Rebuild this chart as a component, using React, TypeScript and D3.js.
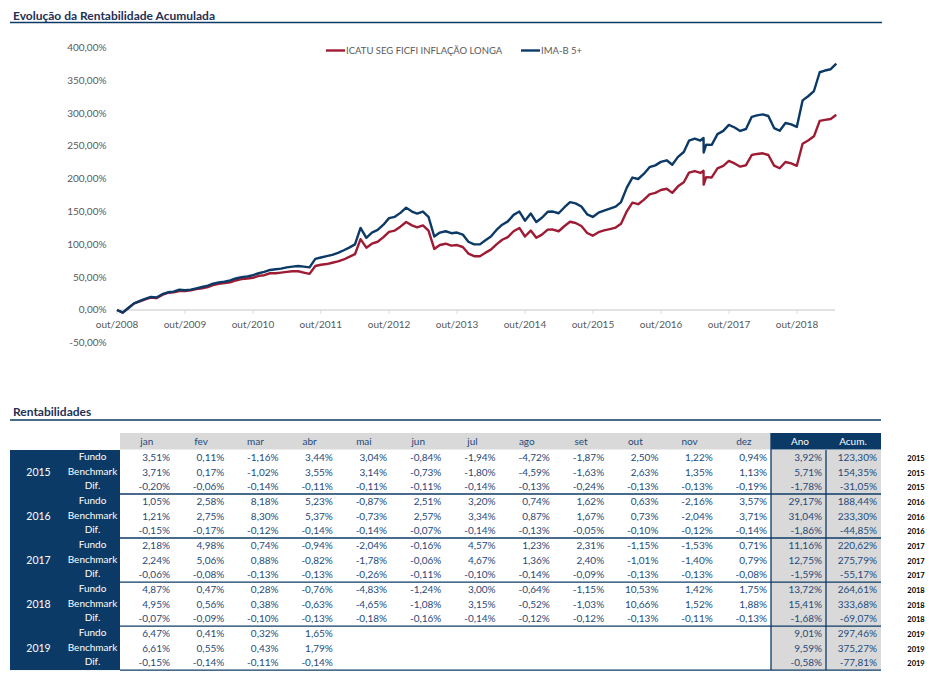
import React from 'react';
import * as d3 from 'd3';

// ---------- Chart data (cumulative return, %) ----------
const dates: string[] = [
  '2008-10-01','2008-11-01','2008-12-01','2009-01-01','2009-02-01','2009-03-01','2009-04-01','2009-05-01','2009-06-01','2009-07-01','2009-08-01','2009-09-01',
  '2009-10-01','2009-11-01','2009-12-01','2010-01-01','2010-02-01','2010-03-01','2010-04-01','2010-05-01','2010-06-01','2010-07-01','2010-08-01','2010-09-01',
  '2010-10-01','2010-11-01','2010-12-01','2011-01-01','2011-02-01','2011-03-01','2011-04-01','2011-05-01','2011-06-01','2011-07-01','2011-08-01','2011-09-01',
  '2011-10-01','2011-11-01','2011-12-01','2012-01-01','2012-02-01','2012-03-01','2012-04-01','2012-05-01','2012-06-01','2012-07-01','2012-08-01','2012-09-01',
  '2012-10-01','2012-11-01','2012-12-01','2013-01-01','2013-02-01','2013-03-01','2013-04-01','2013-05-01','2013-06-01','2013-07-01','2013-08-01','2013-09-01',
  '2013-10-01','2013-11-01','2013-12-01','2014-01-01','2014-02-01','2014-03-01','2014-04-01','2014-05-01','2014-06-01','2014-07-01','2014-08-01','2014-09-01',
  '2014-10-01','2014-11-01','2014-12-01','2014-12-31',
  '2015-01-31','2015-02-28','2015-03-31','2015-04-30','2015-05-31','2015-06-30','2015-07-31','2015-08-31','2015-09-30','2015-10-31','2015-11-30','2015-12-31',
  '2016-01-31','2016-02-29','2016-03-31','2016-04-30','2016-05-31','2016-06-30','2016-07-31','2016-08-31','2016-09-30','2016-10-31','2016-11-30','2016-12-31',
  '2017-01-31','2017-02-28','2017-03-31','2017-04-30','2017-05-17','2017-05-18','2017-05-31','2017-06-30','2017-07-31','2017-08-31','2017-09-30','2017-10-31','2017-11-30','2017-12-31',
  '2018-01-31','2018-02-28','2018-03-31','2018-04-30','2018-05-31','2018-06-30','2018-07-31','2018-08-31','2018-09-30','2018-10-31','2018-11-30','2018-12-31',
  '2019-01-31','2019-02-28','2019-03-31','2019-04-30',
];

const imaB: number[] = [
  0, -4, 3, 10, 14, 17, 20, 19, 24, 27, 28, 31,
  30, 31, 33, 35, 37, 40, 42, 43, 45, 48, 50, 51,
  53, 56, 58, 61, 62, 63, 65, 66, 67, 66, 65, 78,
  80, 82, 84, 87, 91, 95, 100, 125, 110, 118, 122, 130,
  140, 142, 148, 156, 150, 147, 150, 142, 112, 118, 120, 117,
  118, 115, 104, 100, 100, 106, 112, 122, 130, 135, 145, 150,
  136, 147, 134, 140.6,
  149.6, 150.0, 147.4, 156.2, 164.3, 162.4, 157.6, 145.8, 141.8, 148.2, 151.5, 154.35,
  157.4, 164.5, 186.5, 201.8, 199.6, 207.3, 217.6, 220.4, 225.7, 228.1, 221.4, 233.3,
  240.8, 258.0, 261.2, 258.2, 262.0, 240.0, 251.8, 251.6, 268.0, 273.0, 282.0, 278.1, 272.8, 275.79,
  294.4, 296.6, 298.1, 295.6, 277.2, 273.1, 284.9, 282.9, 279.0, 319.4, 325.7, 333.68,
  362.3, 364.9, 366.9, 375.27,
];

const fundo: number[] = [
  0, -4, 3, 10, 13, 16, 19, 18, 23, 26, 27, 29,
  29, 30, 32, 33, 35, 38, 40, 41, 42, 45, 47, 48,
  49, 52, 53, 56, 56, 57, 58, 59, 59, 57, 55, 67,
  69, 70, 72, 74, 77, 81, 85, 108, 95, 101, 104, 111,
  119, 121, 127, 134, 129, 126, 129, 121, 93, 99, 101, 98,
  99, 96, 86, 82, 82, 87, 92, 100, 107, 111, 120, 125,
  112, 121, 110, 114.8,
  122.4, 122.6, 120.0, 127.6, 134.5, 132.6, 128.0, 117.3, 113.2, 118.6, 121.2, 123.3,
  125.6, 131.5, 150.4, 163.5, 161.2, 167.8, 176.3, 178.4, 182.9, 184.7, 178.5, 188.44,
  194.7, 209.4, 211.7, 208.8, 212.0, 191.0, 202.5, 202.0, 215.8, 219.7, 227.1, 223.3, 218.4, 220.62,
  236.2, 237.8, 238.8, 236.2, 220.0, 216.0, 225.5, 223.4, 219.7, 253.3, 258.3, 264.61,
  288.2, 289.8, 291.0, 297.46,
];

const yTicks: number[] = [-50, 0, 50, 100, 150, 200, 250, 300, 350, 400];
const xTickYears: number[] = [2008, 2009, 2010, 2011, 2012, 2013, 2014, 2015, 2016, 2017, 2018];
const seriesNames: string[] = ['ICATU SEG FICFI INFLAÇÃO LONGA', 'IMA-B 5+'];

// ---------- Table data ----------
const meses: string[] = ['jan','fev','mar','abr','mai','jun','jul','ago','set','out','nov','dez'];
const anos: string[] = ['2015','2016','2017','2018','2019'];
const rowLabels: string[] = ['Fundo','Benchmark','Dif.'];

const fundoMensal: number[][] = [
  [3.51, 0.11, -1.16, 3.44, 3.04, -0.84, -1.94, -4.72, -1.87, 2.50, 1.22, 0.94],
  [1.05, 2.58, 8.18, 5.23, -0.87, 2.51, 3.20, 0.74, 1.62, 0.63, -2.16, 3.57],
  [2.18, 4.98, 0.74, -0.94, -2.04, -0.16, 4.57, 1.23, 2.31, -1.15, -1.53, 0.71],
  [4.87, 0.47, 0.28, -0.76, -4.83, -1.24, 3.00, -0.64, -1.15, 10.53, 1.42, 1.75],
  [6.47, 0.41, 0.32, 1.65],
];
const benchMensal: number[][] = [
  [3.71, 0.17, -1.02, 3.55, 3.14, -0.73, -1.80, -4.59, -1.63, 2.63, 1.35, 1.13],
  [1.21, 2.75, 8.30, 5.37, -0.73, 2.57, 3.34, 0.87, 1.67, 0.73, -2.04, 3.71],
  [2.24, 5.06, 0.88, -0.82, -1.78, -0.06, 4.67, 1.36, 2.40, -1.01, -1.40, 0.79],
  [4.95, 0.56, 0.38, -0.63, -4.65, -1.08, 3.15, -0.52, -1.03, 10.66, 1.52, 1.88],
  [6.61, 0.55, 0.43, 1.79],
];
const difMensal: number[][] = [
  [-0.20, -0.06, -0.14, -0.11, -0.11, -0.11, -0.14, -0.13, -0.24, -0.13, -0.13, -0.19],
  [-0.15, -0.17, -0.12, -0.14, -0.14, -0.07, -0.14, -0.13, -0.05, -0.10, -0.12, -0.14],
  [-0.06, -0.08, -0.13, -0.13, -0.26, -0.11, -0.10, -0.14, -0.09, -0.13, -0.13, -0.08],
  [-0.07, -0.09, -0.10, -0.13, -0.18, -0.16, -0.14, -0.12, -0.12, -0.13, -0.11, -0.13],
  [-0.15, -0.14, -0.11, -0.14],
];
const fundoAno: number[] = [3.92, 29.17, 11.16, 13.72, 9.01];
const benchAno: number[] = [5.71, 31.04, 12.75, 15.41, 9.59];
const difAno: number[] = [-1.78, -1.86, -1.59, -1.68, -0.58];
const fundoAcum: number[] = [123.30, 188.44, 220.62, 264.61, 297.46];
const benchAcum: number[] = [154.35, 233.30, 275.79, 333.68, 375.27];
const difAcum: number[] = [-31.05, -44.85, -55.17, -69.07, -77.81];

// ---------- Styling ----------
const FONT = 'Lato, "Open Sans", sans-serif';
const NAVY = '#0C3A66';
const RED = '#9E1B34';
const TEXT_GRAY = '#595959';
const VAL_COLOR = '#1F4A7A';

const fmt = (v: number) => v.toFixed(2).replace('.', ',') + '%';

export default function App() {
  const parse = d3.timeParse('%Y-%m-%d');
  const pts = dates.map((d, i) => ({ date: parse(d) as Date, ima: imaB[i], fundo: fundo[i] }));

  const x = d3.scaleTime().domain([new Date(2008, 9, 1), new Date(2018, 9, 1)]).range([117, 797]);
  const y = d3.scaleLinear().domain([-50, 400]).range([342.8, 47.5]);

  const lineIma = d3.line<any>().x(d => x(d.date)).y(d => y(d.ima));
  const lineFundo = d3.line<any>().x(d => x(d.date)).y(d => y(d.fundo));

  // table scales
  const colX = d3.scaleBand<string>().domain(meses).range([115.7, 767]).paddingInner(0).paddingOuter(0);
  const tableTop = 450;
  const rowH = 14.67;
  const rowY = (i: number) => tableTop + rowH * (i + 0.5);

  const rows: { year: number; kind: number; month: number[]; ano: number; acum: number }[] = [];
  anos.forEach((_, yi) => {
    rows.push({ year: yi, kind: 0, month: fundoMensal[yi], ano: fundoAno[yi], acum: fundoAcum[yi] });
    rows.push({ year: yi, kind: 1, month: benchMensal[yi], ano: benchAno[yi], acum: benchAcum[yi] });
    rows.push({ year: yi, kind: 2, month: difMensal[yi], ano: difAno[yi], acum: difAcum[yi] });
  });

  return (
    <div style={{ position: 'absolute', left: 0, top: 0, width: 937, height: 686, background: '#fff' }}>
      <svg width={937} height={686} style={{ display: 'block', fontFamily: FONT }}>
        {/* Title */}
        <text x={13} y={19.5} fontSize={12} fontWeight={700} fill="#1F3055">Evolução da Rentabilidade Acumulada</text>
        <line x1={10} x2={882} y1={22.5} y2={22.5} stroke={NAVY} strokeWidth={1.5} />

        {/* Y axis labels */}
        {yTicks.map(t => (
          <text key={t} x={106.5} y={y(t)} dy="0.35em" textAnchor="end" fontSize={10} fill={TEXT_GRAY}>{fmt(t)}</text>
        ))}

        {/* zero axis */}
        <line x1={117} x2={835} y1={y(0)} y2={y(0)} stroke="#D9D9D9" strokeWidth={1.5} />
        {xTickYears.map(yr => {
          const xx = x(new Date(yr, 9, 1));
          return (
            <g key={yr}>
              <line x1={xx} x2={xx} y1={y(0)} y2={y(0) + 4} stroke="#D9D9D9" strokeWidth={1} />
              <text x={xx} y={324} dy="0.35em" textAnchor="middle" fontSize={10} fill={TEXT_GRAY}>{`out/${yr}`}</text>
            </g>
          );
        })}

        {/* Lines */}
        <path d={lineFundo(pts) || ''} fill="none" stroke={RED} strokeWidth={2.4} strokeLinejoin="round" />
        <path d={lineIma(pts) || ''} fill="none" stroke={NAVY} strokeWidth={2.4} strokeLinejoin="round" />

        {/* Legend */}
        <line x1={326} x2={345} y1={50.5} y2={50.5} stroke={RED} strokeWidth={2.4} />
        <text x={346} y={50.5} dy="0.35em" fontSize={9.5} fill={TEXT_GRAY}>{seriesNames[0]}</text>
        <line x1={521} x2={540} y1={50.5} y2={50.5} stroke={NAVY} strokeWidth={2.4} />
        <text x={541} y={50.5} dy="0.35em" fontSize={9.5} fill={TEXT_GRAY}>{seriesNames[1]}</text>

        {/* Table title */}
        <text x={13} y={415.5} fontSize={12} fontWeight={700} fill="#1F3055">Rentabilidades</text>
        <line x1={10} x2={881} y1={420} y2={420} stroke={NAVY} strokeWidth={1.5} />

        {/* Header */}
        <rect x={120} y={433} width={651} height={16.5} fill="#D9D9D9" />
        <rect x={771} y={433} width={110} height={16.5} fill={NAVY} />
        {meses.map(m => (
          <text key={m} x={(colX(m) as number) + colX.bandwidth() / 2 + 4} y={441.5} dy="0.35em" textAnchor="middle" fontSize={10} fill={VAL_COLOR}>{m}</text>
        ))}
        <text x={800} y={441.5} dy="0.35em" textAnchor="middle" fontSize={10} fill="#fff">Ano</text>
        <text x={853} y={441.5} dy="0.35em" textAnchor="middle" fontSize={10} fill="#fff">Acum.</text>

        {/* Left block */}
        <rect x={10} y={tableTop} width={110} height={rowH * 15} fill={NAVY} />
        {anos.map((a, yi) => (
          <text key={a} x={38.5} y={rowY(yi * 3 + 1)} dy="0.35em" textAnchor="middle" fontSize={10.5} fill="#fff">{a}</text>
        ))}
        {rows.map((r, i) => (
          <text key={'rl' + i} x={92.5} y={rowY(i) - 1} dy="0.35em" textAnchor="middle" fontSize={10} fill="#fff">{rowLabels[r.kind]}</text>
        ))}

        {/* Gray Ano/Acum body */}
        <rect x={771} y={tableTop} width={110} height={rowH * 15} fill="#D9D9D9" />

        {/* Values */}
        {rows.map((r, i) => (
          <g key={'r' + i}>
            {r.month.map((v, j) => (
              <text key={j} x={(colX(meses[j]) as number) + colX.bandwidth()} y={rowY(i)} dy="0.35em" textAnchor="end" fontSize={10} fill={VAL_COLOR}>{fmt(v)}</text>
            ))}
            <text x={822} y={rowY(i)} dy="0.35em" textAnchor="end" fontSize={10} fill={VAL_COLOR}>{fmt(r.ano)}</text>
            <text x={877} y={rowY(i)} dy="0.35em" textAnchor="end" fontSize={10} fill={VAL_COLOR}>{fmt(r.acum)}</text>
            <text x={916} y={rowY(i) + 1} dy="0.35em" textAnchor="middle" fontSize={7.5} fontWeight={700} fill="#000">{anos[r.year]}</text>
          </g>
        ))}

        {/* Group separators */}
        {anos.map((a, yi) => (
          <line key={'sep' + a} x1={120} x2={881} y1={tableTop + rowH * 3 * (yi + 1)} y2={tableTop + rowH * 3 * (yi + 1)} stroke={NAVY} strokeWidth={1.3} />
        ))}
        <line x1={771} x2={771} y1={433} y2={tableTop + rowH * 15} stroke={NAVY} strokeWidth={1.3} />
        <line x1={826} x2={826} y1={tableTop} y2={tableTop + rowH * 15} stroke={NAVY} strokeWidth={1.3} />
      </svg>
    </div>
  );
}
